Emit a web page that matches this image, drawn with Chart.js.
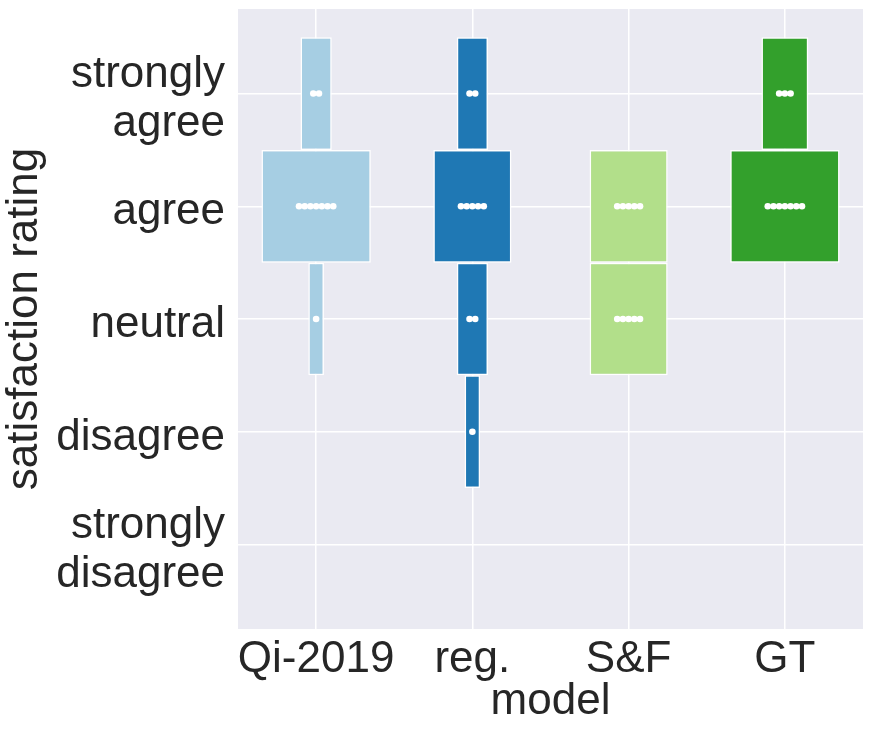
<!DOCTYPE html>
<html>
<head>
<meta charset="utf-8">
<script src="https://cdn.jsdelivr.net/npm/chart.js@4.4.0/dist/chart.umd.min.js"></script>
<style>
  body { margin: 0; background: #fff; }
  canvas { display: block; }
</style>
</head>
<body>
<canvas id="myChart" width="872" height="736"></canvas>
<script>
const models = ['Qi-2019', 'reg.', 'S&F', 'GT'];
const ratingLabels = [['strongly', 'disagree'], 'disagree', 'neutral', 'agree', ['strongly', 'agree']];

// answers per rating: strongly disagree, disagree, neutral, agree, strongly agree
const qiCounts = [0, 0, 1, 7, 2];
const regCounts = [0, 1, 2, 5, 2];
const sfCounts = [0, 0, 5, 5, 0];
const gtCounts = [0, 0, 0, 7, 3];

const palette = ['#a6cee3', '#1f78b4', '#b2df8a', '#33a02c'];
const textColor = '#262626';

Chart.defaults.font.family = "'Liberation Sans', Arial, sans-serif";

const allCounts = [qiCounts, regCounts, sfCounts, gtCounts];
const boxSets = [];
const dots = [];
allCounts.forEach((counts, m) => {
  counts.forEach((n, r) => {
    if (!n) return;
    boxSets.push({
      type: 'bar',
      data: models.map((_, i) => i === m ? [r - 0.5, r + 0.5] : null),
      backgroundColor: palette[m],
      borderColor: '#ffffff',
      borderWidth: 1.5,
      borderSkipped: false,
      barPercentage: n * 0.1,
      categoryPercentage: 1,
      grouped: false,
      order: 1
    });
    // swarm: one dot per answer, in a row
    for (let k = 0; k < n; k++) {
      dots.push({ x: m + (k - (n - 1) / 2) * 0.0365, y: r });
    }
  });
});

const plotBg = {
  id: 'plotBg',
  beforeDraw(chart) {
    const { ctx, chartArea: a } = chart;
    ctx.save();
    ctx.fillStyle = '#eaeaf2';
    ctx.fillRect(a.left, a.top, a.width, a.height);
    ctx.restore();
  }
};

const config = {
  type: 'bar',
  data: {
    labels: models,
    datasets: [
      {
        type: 'scatter',
        data: dots,
        xAxisID: 'xd',
        yAxisID: 'y',
        pointRadius: 3.3,
        pointBackgroundColor: '#ffffff',
        pointBorderWidth: 0,
        order: 0
      },
      ...boxSets
    ]
  },
  options: {
    responsive: false,
    animation: false,
    layout: { padding: { top: 9, right: 9, left: 0, bottom: 0 } },
    plugins: {
      legend: { display: false },
      tooltip: { enabled: false }
    },
    scales: {
      x: {
        type: 'category',
        offset: true,
        grid: { offset: false, color: '#ffffff', lineWidth: 1.5, drawTicks: false },
        border: { display: false },
        ticks: { color: textColor, font: { size: 44 }, padding: 4, maxRotation: 0, autoSkip: false },
        title: { display: true, text: 'model', color: textColor, font: { size: 44, lineHeight: 1 }, padding: 12 },
        afterFit(s) { s.height = 107; }
      },
      xd: {
        type: 'linear',
        display: false,
        offset: false,
        min: -0.5,
        max: 3.5
      },
      y: {
        type: 'linear',
        min: -0.75,
        max: 4.75,
        afterBuildTicks(s) { s.ticks = [0, 1, 2, 3, 4].map(v => ({ value: v })); },
        grid: { color: '#ffffff', lineWidth: 1.5, drawTicks: false },
        border: { display: false },
        ticks: {
          color: textColor,
          font: { size: 44, lineHeight: 1.1 },
          padding: 13,
          labelOffset: 6,
          callback: (v) => ratingLabels[v]
        },
        title: { display: true, text: 'satisfaction rating', color: textColor, font: { size: 44, lineHeight: 1 }, padding: 3 },
        afterFit(s) {
          s.width = 238;
          s.paddingTop = 0;
          s.paddingBottom = 0;
        }
      }
    }
  },
  plugins: [plotBg]
};

const myChart = new Chart(document.getElementById('myChart'), config);
</script>
</body>
</html>
